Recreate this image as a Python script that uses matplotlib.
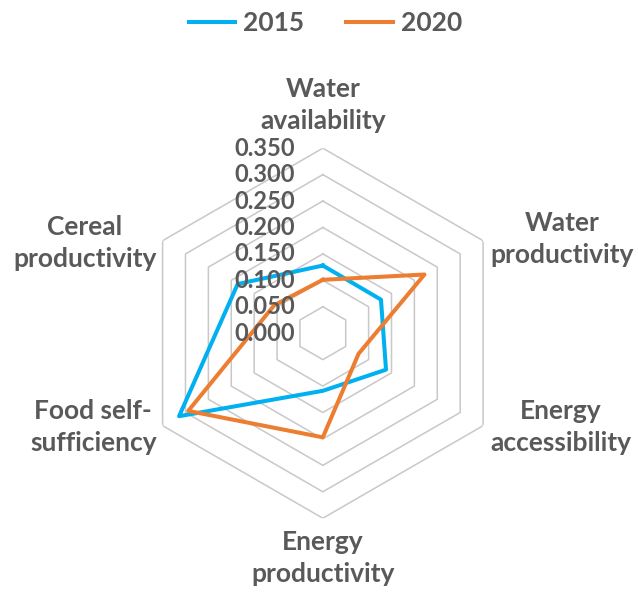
import numpy as np
import matplotlib.pyplot as plt

# indicators, clockwise from the top
categories = ['Water\navailability', 'Water\nproductivity', 'Energy\naccessibility',
              'Energy\nproductivity', 'Food self-\nsufficiency', 'Cereal\nproductivity']
values_2015 = [0.128, 0.127, 0.138, 0.109, 0.314, 0.186]
values_2020 = [0.101, 0.222, 0.078, 0.197, 0.294, 0.106]
series_names = ['2015', '2020']
ring_ticks = [0.0, 0.05, 0.10, 0.15, 0.20, 0.25, 0.30, 0.35]

plt.rcParams['font.family'] = ['Lato', 'DejaVu Sans']
plt.rcParams['font.weight'] = 'bold'
txt_color = '#595959'
grid_color = '#c8c8c8'

n = len(categories)
theta = np.pi / 2 - np.arange(n) * 2 * np.pi / n
theta_c = np.append(theta, theta[0])

fig = plt.figure(figsize=(6.38, 5.95), dpi=100)
ax = fig.add_axes([0.216, 0.129, 0.58, 0.622], projection='polar')
ax.set_ylim(0, ring_ticks[-1])
ax.grid(False)
ax.spines['polar'].set_visible(False)
ax.set_xticks([])
ax.set_yticks([])

# hexagonal rings
for r in ring_ticks[1:]:
    ax.plot(theta_c, [r] * (n + 1), color=grid_color, lw=1.1, zorder=1)

# radial labels along the top axis
for r in ring_ticks:
    ax.annotate(f'{r:.3f}', xy=(np.pi / 2, r), xytext=(-28, 0), textcoords='offset pixels',
                ha='right', va='center', fontsize=17, color=txt_color, zorder=3)

l1, = ax.plot(theta_c, values_2015 + values_2015[:1], color='#00b0f0', lw=2.9, zorder=2)
l2, = ax.plot(theta_c, values_2020 + values_2020[:1], color='#ed7d31', lw=2.9, zorder=2)

# category labels, placed relative to the outer vertex
label_pos = [((0, 15), 'center', 'bottom'),
             ((7, 2), 'left', 'center'),
             ((7, -1), 'left', 'center'),
             ((0, -12), 'center', 'top'),
             ((-6, -1), 'right', 'center'),
             ((-6, -2), 'right', 'center')]
for t, lab, (off, ha, va) in zip(theta, categories, label_pos):
    ax.annotate(lab, xy=(t, ring_ticks[-1]), xytext=off, textcoords='offset pixels',
                ha=ha, va=va, multialignment='center', fontsize=19, color=txt_color,
                linespacing=1.4)

leg = fig.legend([l1, l2], series_names, loc='center', bbox_to_anchor=(0.51, 0.961),
                 ncol=2, frameon=False, fontsize=19, handlelength=1.75,
                 handletextpad=0.3, columnspacing=1.6)
for t in leg.get_texts():
    t.set_color(txt_color)

fig.savefig('out.png', dpi=100)
